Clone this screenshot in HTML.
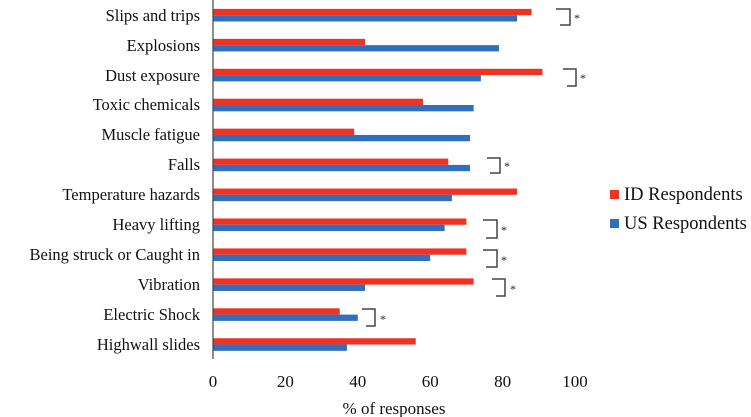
<!DOCTYPE html>
<html><head><meta charset="utf-8"><style>
body{margin:0;background:#fff;}
svg{display:block;font-family:"Liberation Serif",serif;}
</style></head><body>
<svg width="751" height="417" xmlns="http://www.w3.org/2000/svg">
<g>
<rect x="213" y="8.9" width="318.56" height="6.3" fill="#ee3224"/><rect x="213" y="15.2" width="304.08" height="6.3" fill="#2f6fbd"/>
<rect x="213" y="38.84" width="152.04" height="6.3" fill="#ee3224"/><rect x="213" y="45.14" width="285.98" height="6.3" fill="#2f6fbd"/>
<rect x="213" y="68.78" width="329.42" height="6.3" fill="#ee3224"/><rect x="213" y="75.08" width="267.88" height="6.3" fill="#2f6fbd"/>
<rect x="213" y="98.72" width="209.96" height="6.3" fill="#ee3224"/><rect x="213" y="105.02" width="260.64" height="6.3" fill="#2f6fbd"/>
<rect x="213" y="128.66" width="141.18" height="6.3" fill="#ee3224"/><rect x="213" y="134.96" width="257.02" height="6.3" fill="#2f6fbd"/>
<rect x="213" y="158.6" width="235.3" height="6.3" fill="#ee3224"/><rect x="213" y="164.9" width="257.02" height="6.3" fill="#2f6fbd"/>
<rect x="213" y="188.54" width="304.08" height="6.3" fill="#ee3224"/><rect x="213" y="194.84" width="238.92" height="6.3" fill="#2f6fbd"/>
<rect x="213" y="218.48" width="253.4" height="6.3" fill="#ee3224"/><rect x="213" y="224.78" width="231.68" height="6.3" fill="#2f6fbd"/>
<rect x="213" y="248.42" width="253.4" height="6.3" fill="#ee3224"/><rect x="213" y="254.72" width="217.2" height="6.3" fill="#2f6fbd"/>
<rect x="213" y="278.36" width="260.64" height="6.3" fill="#ee3224"/><rect x="213" y="284.66" width="152.04" height="6.3" fill="#2f6fbd"/>
<rect x="213" y="308.3" width="126.7" height="6.3" fill="#ee3224"/><rect x="213" y="314.6" width="144.8" height="6.3" fill="#2f6fbd"/>
<rect x="213" y="338.24" width="202.72" height="6.3" fill="#ee3224"/><rect x="213" y="344.54" width="133.94" height="6.3" fill="#2f6fbd"/>
</g>
<line x1="213" y1="0" x2="213" y2="359" stroke="#444" stroke-width="1.2"/>
<g font-size="17" text-anchor="middle" fill="#111">
<text x="213" y="387">0</text><text x="285.4" y="387">20</text><text x="357.8" y="387">40</text>
<text x="430.2" y="387">60</text><text x="502.6" y="387">80</text><text x="575" y="387">100</text>
<text x="394" y="414">% of responses</text>
</g>
<g font-size="16.5" text-anchor="end" fill="#111">
<text x="200" y="21">Slips and trips</text>
<text x="200" y="51">Explosions</text>
<text x="200" y="81">Dust exposure</text>
<text x="200" y="110">Toxic chemicals</text>
<text x="200" y="140">Muscle fatigue</text>
<text x="200" y="170">Falls</text>
<text x="200" y="200">Temperature hazards</text>
<text x="200" y="230">Heavy lifting</text>
<text x="200" y="260">Being struck or Caught in</text>
<text x="200" y="290">Vibration</text>
<text x="200" y="320">Electric Shock</text>
<text x="200" y="350">Highwall slides</text>
</g>
<g fill="none" stroke="#444" stroke-width="1.5">
<polyline points="556,9 570,9 570,25 560,25"/>
<polyline points="563,69 576,69 576,86 567,86"/>
<polyline points="487,158 500,158 500,173 490,173"/>
<polyline points="483,220 497,220 497,238 486,238"/>
<polyline points="483,250 497,250 497,267 486,267"/>
<polyline points="492,279 505,279 505,296 496,296"/>
<polyline points="362,309 375,309 375,326 366,326"/>
</g>
<g font-size="12" fill="#222">
<text x="574" y="22">*</text><text x="580" y="82">*</text><text x="504" y="170">*</text>
<text x="501" y="234">*</text><text x="501" y="264">*</text><text x="510" y="293">*</text><text x="380" y="323">*</text>
</g>
<rect x="610" y="190" width="9" height="9" fill="#ee3224"/>
<rect x="610" y="219" width="9" height="9" fill="#2f6fbd"/>
<g font-size="18.5" fill="#111">
<text x="624" y="200">ID Respondents</text>
<text x="624" y="229">US Respondents</text>
</g>
</svg>
</body></html>
